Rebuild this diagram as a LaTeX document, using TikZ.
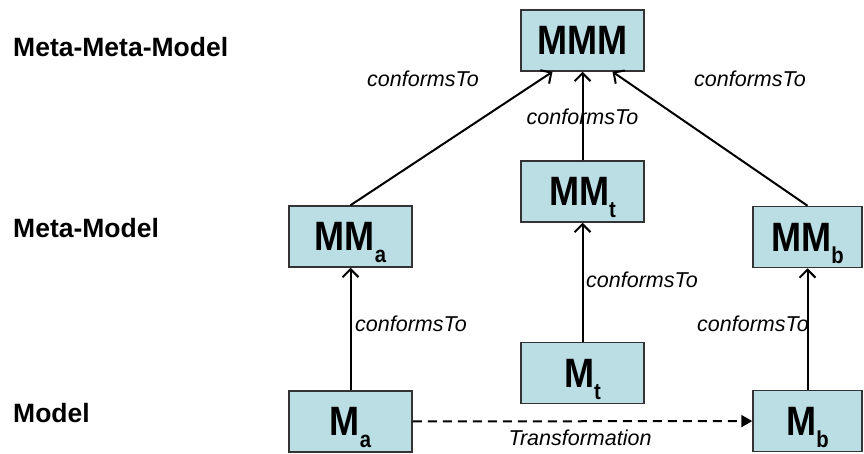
\documentclass[tikz,border=0pt]{standalone}
\usepackage{fontspec}
\setmainfont{Liberation Sans}
\newfontfamily\boxfont[FakeStretch=0.88]{Liberation Sans}
\usetikzlibrary{arrows.meta,calc}

\definecolor{boxfill}{RGB}{186,222,228}
\newcommand{\lowsub}[1]{\smash{\raisebox{-12pt}{\fontsize{23}{23}\selectfont #1}}}

\tikzset{
  model/.style={draw=black!80, line width=1.5pt, fill=boxfill, minimum width=123pt,
    minimum height=61pt, inner sep=0pt, font=\boxfont\fontsize{41}{41}\selectfont\bfseries},
  level/.style={anchor=west, inner sep=0pt, font=\fontsize{26.5}{28}\selectfont\bfseries},
  lbl/.style={inner sep=0pt, font=\fontsize{21.5}{23}\selectfont\itshape},
  conf/.style={line width=2pt, -{Straight Barb[length=8pt,width=16pt,line width=2pt]}},
}

\begin{document}
\begin{tikzpicture}[x=1pt,y=-1pt]

\useasboundingbox (0,0) rectangle (864,454);

% Levels
\node[level] (lmmm) at (13,47) {Meta-Meta-Model};
\node[level] (lmm) at (13,228) {Meta-Model};
\node[level] (lm) at (13,413) {Model};

% Models
\node[model] (mmm) at (582.5,40.5) {MMM};
\node[model] (mmt) at (582.5,191.5) {MM\lowsub{t}};
\node[model] (mt) at (582.5,373) {M\lowsub{t}};
\node[model] (mma) at (350.5,236.5) {MM\lowsub{a}};
\node[model] (ma) at (350.5,421.5) {M\lowsub{a}};
\node[model, minimum width=109pt] (mmb) at (807.5,237) {MM\lowsub{b}};
\node[model, minimum width=109pt] (mb) at (807.5,421) {M\lowsub{b}};

% conformsTo
\draw[conf] (mma.north) -- ($(mmm.south)+(-30,0)$);
\draw[conf] (mmt) -- (mmm);
\draw[conf] (mmb.north) -- ($(mmm.south)+(30,0)$);
\draw[conf] (ma) -- (mma);
\draw[conf] (mt) -- (mmt);
\draw[conf] (mb) -- (mmb);

\node[lbl] (c1) at (423,79) {conformsTo};
\node[lbl] (c2) at (582.5,117) {conformsTo};
\node[lbl] (c3) at (750,79) {conformsTo};
\node[lbl] (c4) at (642,280) {conformsTo};
\node[lbl] (c5) at (411,324) {conformsTo};
\node[lbl] (c6) at (753,324) {conformsTo};

% Transformation
\draw[line width=2pt, dash pattern=on 9pt off 6pt, -{Triangle[length=11pt,width=12pt]}] (ma) -- (mb);
\node[lbl] (tr) at (580,438) {Transformation};

\end{tikzpicture}
\end{document}
